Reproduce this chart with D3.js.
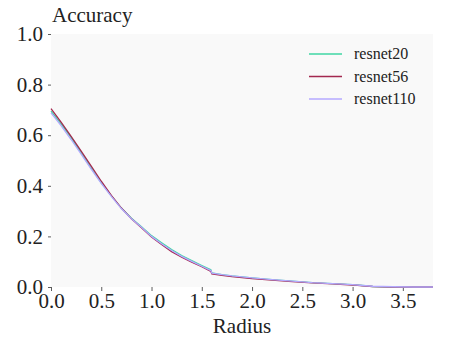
<!DOCTYPE html>
<meta charset="utf-8">
<script src="https://d3js.org/d3.v7.min.js"></script>
<style>
  body { margin: 0; background: #fff; }
</style>
<body>
<div id="chart"></div>
<script>
// radius values along the x axis
const radius = [0, 0.1, 0.2, 0.3, 0.4, 0.5, 0.6, 0.7, 0.8, 0.9, 1.0, 1.1, 1.2, 1.3, 1.4, 1.5, 1.59, 1.6,
                1.7, 1.8, 1.9, 2.0, 2.2, 2.4, 2.6, 2.8, 3.0, 3.1, 3.2, 3.4, 3.6, 3.8];

// certified accuracy per model
const resnet20  = [0.695, 0.645, 0.59, 0.53, 0.47, 0.412, 0.36, 0.312, 0.272, 0.238, 0.203, 0.175, 0.148, 0.124, 0.104, 0.085, 0.068, 0.056,
                   0.049, 0.044, 0.040, 0.036, 0.029, 0.023, 0.017, 0.013, 0.009, 0.006, 0.002, 0, 0, 0];
const resnet56  = [0.705, 0.652, 0.595, 0.537, 0.478, 0.418, 0.362, 0.312, 0.27, 0.234, 0.198, 0.168, 0.14, 0.118, 0.098, 0.08, 0.062, 0.052,
                   0.046, 0.041, 0.037, 0.033, 0.027, 0.021, 0.016, 0.012, 0.008, 0.005, 0.002, 0, 0, 0];
const resnet110 = [0.688, 0.638, 0.583, 0.525, 0.466, 0.41, 0.358, 0.31, 0.27, 0.236, 0.2, 0.171, 0.144, 0.121, 0.101, 0.082, 0.065, 0.055,
                   0.049, 0.044, 0.040, 0.036, 0.029, 0.023, 0.017, 0.013, 0.009, 0.006, 0.003, 0.001, 0, 0];

const seriesNames = ["resnet20", "resnet56", "resnet110"];
const seriesValues = [resnet20, resnet56, resnet110];
const colors = ["#3fd6a3", "#a3284f", "#b4a9ff"];

const xTicks = [0, 0.5, 1.0, 1.5, 2.0, 2.5, 3.0, 3.5];
const yTicks = [0, 0.2, 0.4, 0.6, 0.8, 1.0];

const FONT = "'Liberation Serif', 'DejaVu Serif', serif";

const W = 449, H = 356;
const margin = {top: 34, right: 16, bottom: 69, left: 51};
const width = W - margin.left - margin.right,
      height = H - margin.top - margin.bottom;

const svg = d3.select("#chart").append("svg")
    .attr("width", W)
    .attr("height", H)
    .style("font-family", FONT);

const g = svg.append("g")
    .attr("transform", `translate(${margin.left},${margin.top})`);

const x = d3.scaleLinear().domain([0, 3.8]).range([0, width]);
const y = d3.scaleLinear().domain([0, 1]).range([height, 0]);

// plot background
g.append("rect")
  .attr("width", width)
  .attr("height", height)
  .attr("fill", "#f9f9f9");

// axes
const xAxis = g.append("g")
  .attr("transform", `translate(0,${height})`)
  .call(d3.axisBottom(x).tickValues(xTicks).tickFormat(d3.format(".1f")).tickSize(4).tickPadding(2))
  .attr("font-family", FONT);
xAxis.select(".domain").remove();
xAxis.selectAll("line").attr("stroke", "#333").attr("stroke-width", 0.8);
xAxis.selectAll("text").attr("font-size", 21).attr("fill", "#222");

const yAxis = g.append("g")
  .call(d3.axisLeft(y).tickValues(yTicks).tickFormat(d3.format(".1f")).tickSize(3).tickPadding(5))
  .attr("font-family", FONT);
yAxis.select(".domain").remove();
yAxis.selectAll("line").attr("stroke", "#333").attr("stroke-width", 0.8);
yAxis.selectAll("text").attr("font-size", 21).attr("fill", "#222");

// lines
const line = d3.line()
  .x((d, i) => x(radius[i]))
  .y(d => y(d));

seriesValues.forEach((vals, k) => {
  g.append("path")
    .datum(vals)
    .attr("fill", "none")
    .attr("stroke", colors[k])
    .attr("stroke-width", 1.3)
    .attr("d", line);
});

// axis titles
svg.append("text")
  .attr("x", 52)
  .attr("y", 22)
  .attr("font-family", FONT)
  .attr("font-size", 21)
  .attr("fill", "#222")
  .text("Accuracy");

svg.append("text")
  .attr("x", margin.left + width / 2)
  .attr("y", 333)
  .attr("text-anchor", "middle")
  .attr("font-family", FONT)
  .attr("font-size", 21)
  .attr("fill", "#222")
  .text("Radius");

// legend
const legend = svg.append("g").attr("transform", "translate(309,54)");
seriesNames.forEach((name, k) => {
  const row = legend.append("g").attr("transform", `translate(0,${k * 22.5})`);
  row.append("line")
    .attr("x1", 0).attr("x2", 33)
    .attr("stroke", colors[k])
    .attr("stroke-width", 1.3);
  row.append("text")
    .attr("x", 45)
    .attr("y", 5)
    .attr("font-family", FONT)
    .attr("font-size", 16)
    .attr("fill", "#222")
    .text(name);
});
</script>
</body>
